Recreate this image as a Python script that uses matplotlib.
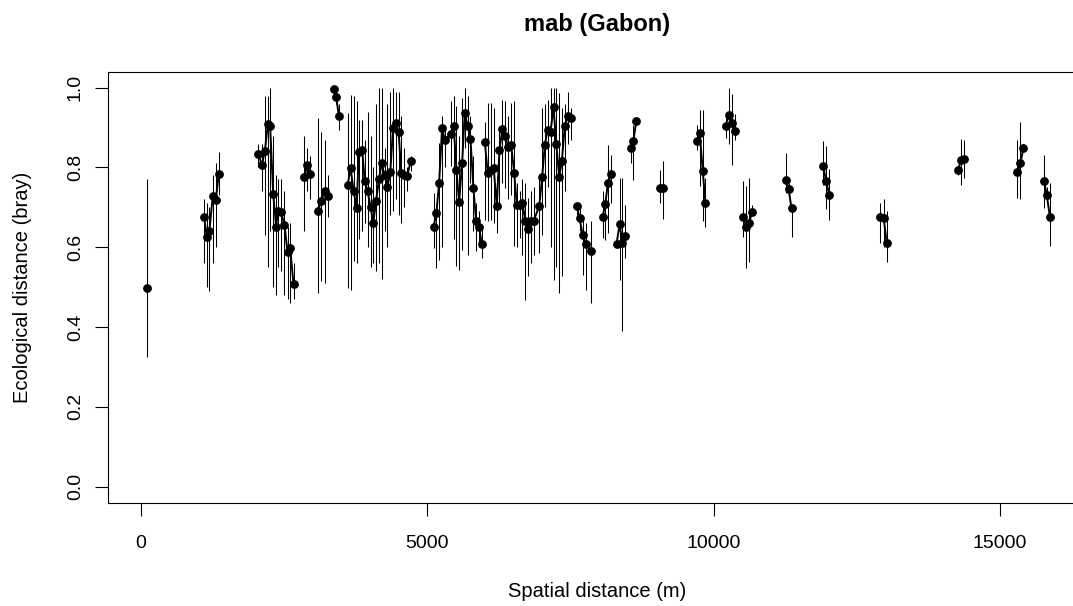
import numpy as np
import matplotlib
matplotlib.use('Agg')
import matplotlib.pyplot as plt

plt.rcParams['font.family'] = ['Liberation Sans', 'DejaVu Sans']

# spatial distance (m), ecological distance (bray) and its interval, per site group
dist = [100,
        1101, 1154, 1194, 1253, 1306, 1358,
        2051, 2110, 2163, 2215, 2255, 2308, 2360, 2390, 2442, 2505, 2558, 2605, 2663,
        2850, 2902, 2955,
        3089, 3147, 3205, 3257,
        3362, 3409, 3456,
        3607, 3659, 3712, 3764, 3806, 3864, 3904, 3957, 4009, 4056, 4103, 4156,
        4201, 4253, 4301, 4353, 4400, 4446, 4498, 4545, 4593, 4645, 4708,
        5110, 5157, 5205, 5257, 5302, 5408, 5460, 5507, 5554, 5607, 5652, 5705,
        5752, 5804, 5852, 5904, 5950,
        6002, 6054, 6107, 6159, 6212, 6259, 6311, 6358, 6411, 6463,
        6516, 6561, 6614, 6661, 6708, 6760, 6806, 6858, 6953, 7005,
        7051, 7098, 7150, 7203, 7250, 7302, 7348, 7400, 7453, 7500,
        7610, 7657, 7710, 7762, 7862,
        8059, 8106, 8152, 8205,
        8304, 8357, 8404, 8456,
        8549, 8596, 8649,
        9061, 9114,
        9703, 9755, 9808, 9855,
        10210, 10262, 10315, 10367,
        10512, 10565, 10617, 10670,
        11259, 11306, 11358,
        11911, 11964, 12016,
        12907, 12967, 13019,
        14266, 14318, 14371,
        15302, 15355, 15407,
        15769, 15816, 15869]

eco = [0.499,
       0.675, 0.625, 0.642, 0.728, 0.719, 0.784,
       0.835, 0.805, 0.842, 0.909, 0.903, 0.734, 0.652, 0.690, 0.688, 0.657, 0.588, 0.597, 0.508,
       0.776, 0.805, 0.784,
       0.692, 0.715, 0.742, 0.729,
       0.996, 0.976, 0.928,
       0.755, 0.799, 0.742, 0.698, 0.839, 0.843, 0.767, 0.740, 0.700, 0.662, 0.715, 0.771,
       0.811, 0.780, 0.751, 0.788, 0.899, 0.912, 0.889, 0.786, 0.780, 0.778, 0.815,
       0.652, 0.686, 0.761, 0.899, 0.870, 0.884, 0.905, 0.794, 0.714, 0.810, 0.937, 0.903,
       0.872, 0.749, 0.665, 0.651, 0.607,
       0.865, 0.786, 0.794, 0.798, 0.703, 0.845, 0.897, 0.878, 0.851, 0.857,
       0.786, 0.707, 0.707, 0.711, 0.667, 0.647, 0.667, 0.667, 0.703, 0.777,
       0.857, 0.893, 0.889, 0.951, 0.860, 0.776, 0.815, 0.905, 0.928, 0.924,
       0.703, 0.673, 0.632, 0.607, 0.590,
       0.675, 0.708, 0.760, 0.784,
       0.609, 0.659, 0.610, 0.628,
       0.848, 0.867, 0.917,
       0.749, 0.749,
       0.867, 0.886, 0.792, 0.711,
       0.905, 0.932, 0.911, 0.891,
       0.676, 0.652, 0.661, 0.688,
       0.769, 0.747, 0.698,
       0.803, 0.765, 0.732,
       0.675, 0.673, 0.612,
       0.794, 0.818, 0.820,
       0.789, 0.810, 0.849,
       0.765, 0.730, 0.677]

eco_lo = [0.324,
          0.56, 0.50, 0.49, 0.56, 0.60, 0.73,
          0.80, 0.74, 0.63, 0.55, 0.64, 0.50, 0.48, 0.55, 0.54, 0.48, 0.47, 0.46, 0.47,
          0.64, 0.74, 0.72,
          0.485, 0.515, 0.51, 0.675,
          0.98, 0.96, 0.895,
          0.498, 0.494, 0.565, 0.56, 0.62, 0.64, 0.66, 0.60, 0.55, 0.56, 0.54, 0.56,
          0.52, 0.64, 0.60, 0.68, 0.69, 0.72, 0.68, 0.66, 0.70, 0.74, 0.79,
          0.599, 0.549, 0.569, 0.60, 0.80, 0.803, 0.62, 0.552, 0.544, 0.594, 0.85, 0.58,
          0.76, 0.64, 0.59, 0.60, 0.574,
          0.669, 0.665, 0.669, 0.66, 0.636, 0.70, 0.76, 0.749, 0.72, 0.73,
          0.602, 0.60, 0.623, 0.58, 0.469, 0.527, 0.56, 0.58, 0.586, 0.63,
          0.70, 0.75, 0.60, 0.519, 0.55, 0.486, 0.527, 0.74, 0.86, 0.87,
          0.68, 0.64, 0.531, 0.494, 0.461,
          0.623, 0.619, 0.636, 0.711,
          0.60, 0.519, 0.389, 0.574,
          0.812, 0.769, 0.91,
          0.711, 0.672,
          0.845, 0.753, 0.665, 0.652,
          0.875, 0.86, 0.805, 0.87,
          0.627, 0.548, 0.562, 0.68,
          0.736, 0.73, 0.626,
          0.757, 0.696, 0.669,
          0.611, 0.60, 0.562,
          0.78, 0.757, 0.774,
          0.723, 0.721, 0.84,
          0.698, 0.71, 0.604]

eco_hi = [0.770,
          0.72, 0.71, 0.70, 0.78, 0.81, 0.84,
          0.86, 0.86, 0.98, 0.98, 1.00, 0.88, 0.78, 0.77, 0.77, 0.74, 0.65, 0.66, 0.56,
          0.88, 0.85, 0.83,
          0.924, 0.89, 0.87, 0.78,
          1.0, 0.99, 0.96,
          0.937, 0.982, 0.98, 0.966, 0.92, 0.92, 0.87, 0.94, 0.88, 0.80, 0.96, 1.0,
          1.0, 0.85, 0.96, 0.99, 1.0, 0.99, 0.99, 0.93, 0.85, 0.80, 0.83,
          0.737, 0.694, 0.862, 0.93, 0.90, 0.966, 0.98, 0.953, 0.878, 0.975, 1.0, 0.98,
          0.93, 0.83, 0.71, 0.69, 0.65,
          0.915, 0.962, 0.962, 0.95, 0.778, 0.90, 0.97, 0.966, 0.93, 0.962,
          0.966, 0.76, 0.74, 0.77, 0.761, 0.724, 0.74, 0.75, 0.77, 0.95,
          0.96, 0.97, 1.0, 1.0, 1.0, 0.987, 0.95, 0.96, 0.99, 0.95,
          0.71, 0.70, 0.677, 0.661, 0.665,
          0.74, 0.727, 0.857, 0.832,
          0.63, 0.774, 0.774, 0.707,
          0.857, 0.907, 0.925,
          0.794, 0.815,
          0.907, 0.945, 0.945, 0.774,
          0.925, 1.0, 0.985, 0.935,
          0.765, 0.753, 0.774, 0.707,
          0.836, 0.76, 0.702,
          0.867, 0.855, 0.796,
          0.711, 0.72, 0.69,
          0.80, 0.871, 0.87,
          0.87, 0.915, 0.86,
          0.832, 0.75, 0.761]

group_sizes = [1, 6, 13, 3, 4, 3, 23, 17, 30, 5, 4, 4, 3, 2, 4, 4, 4, 3, 3, 3, 3, 3, 3]

x = np.array(dist, dtype=float)
y = np.array(eco)
lo = np.array(eco_lo)
hi = np.array(eco_hi)
cuts = np.cumsum(group_sizes)[:-1]

fig = plt.figure(figsize=(10.73, 6.06), dpi=100)
ax = fig.add_axes([108.3 / 1073, 103.3 / 606, (1086 - 108.3) / 1073, 431 / 606])

ax.vlines(x, lo, hi, colors='black', linewidth=0.75, zorder=2)
for gx, gy in zip(np.split(x, cuts), np.split(y, cuts)):
    ax.plot(gx, gy, color='black', linewidth=1.4, zorder=3)
ax.plot(x, y, 'o', color='black', markersize=5.3, zorder=4, clip_on=False)

ax.set_xlim(-571, 16500)
ax.set_ylim(-0.04, 1.04)
ax.set_xticks([0, 5000, 10000, 15000])
ax.set_yticks([0.0, 0.2, 0.4, 0.6, 0.8, 1.0])
ax.set_yticklabels(['0.0', '0.2', '0.4', '0.6', '0.8', '1.0'], rotation=90, va='center')

ax.tick_params(axis='both', direction='out', length=9.5, width=0.8, labelsize=14)
ax.tick_params(axis='x', pad=14)
ax.tick_params(axis='y', pad=8)
for s in ax.spines.values():
    s.set_linewidth(0.8)

ax.set_xlabel('Spatial distance (m)', fontsize=14.5, labelpad=21)
ax.set_ylabel('Ecological distance (bray)', fontsize=14.5, labelpad=25)
ax.set_title('mab (Gabon)', fontsize=17, fontweight='bold', pad=29)

fig.savefig('out.png', dpi=100)
